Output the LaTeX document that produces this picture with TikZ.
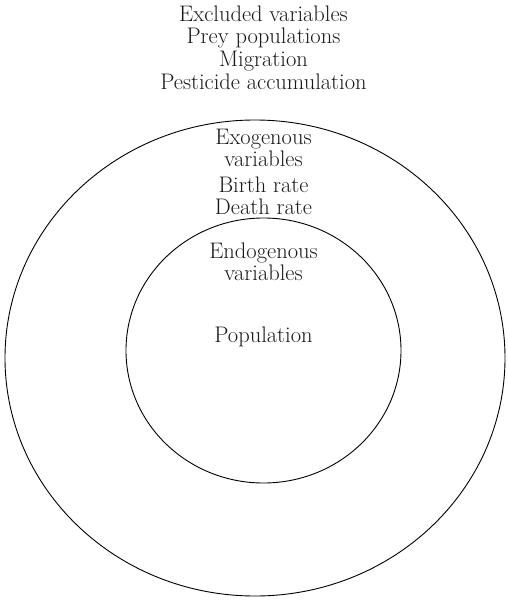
\documentclass[tikz,border=0pt]{standalone}
\usepackage{fontspec}
\usetikzlibrary{shapes.geometric}
\tikzset{
  lbl/.style={anchor=base, inner sep=0pt, font=\fontsize{22.5}{24}\selectfont, text=black!90},
  ring/.style={ellipse, draw=black, line width=0.9pt, inner sep=0pt}
}
\begin{document}
\begin{tikzpicture}[x=1pt,y=1pt]
\useasboundingbox (0,0) rectangle (508,-608);
% rings
\node[ring, minimum width=500pt, minimum height=476pt] (outer) at (255,-358) {};
\node[ring, minimum width=275pt, minimum height=265pt] (inner) at (263.5,-350.5) {};
% excluded
\node[lbl] (ex1) at (263.5,-21) {Excluded variables};
\node[lbl] (ex2) at (263.5,-43.5) {Prey populations};
\node[lbl] (ex3) at (263.5,-66) {Migration};
\node[lbl] (ex4) at (263.5,-89) {Pesticide accumulation};
% exogenous
\node[lbl] (exo1) at (263.5,-144) {Exogenous};
\node[lbl] (exo2) at (263.5,-166) {variables};
\node[lbl] (br) at (263.5,-192) {Birth rate};
\node[lbl] (dr) at (263.5,-214) {Death rate};
% endogenous
\node[lbl] (endo1) at (263.5,-258) {Endogenous};
\node[lbl] (endo2) at (263.5,-280) {variables};
\node[lbl] (pop) at (263.5,-342) {Population};
\end{tikzpicture}
\end{document}
